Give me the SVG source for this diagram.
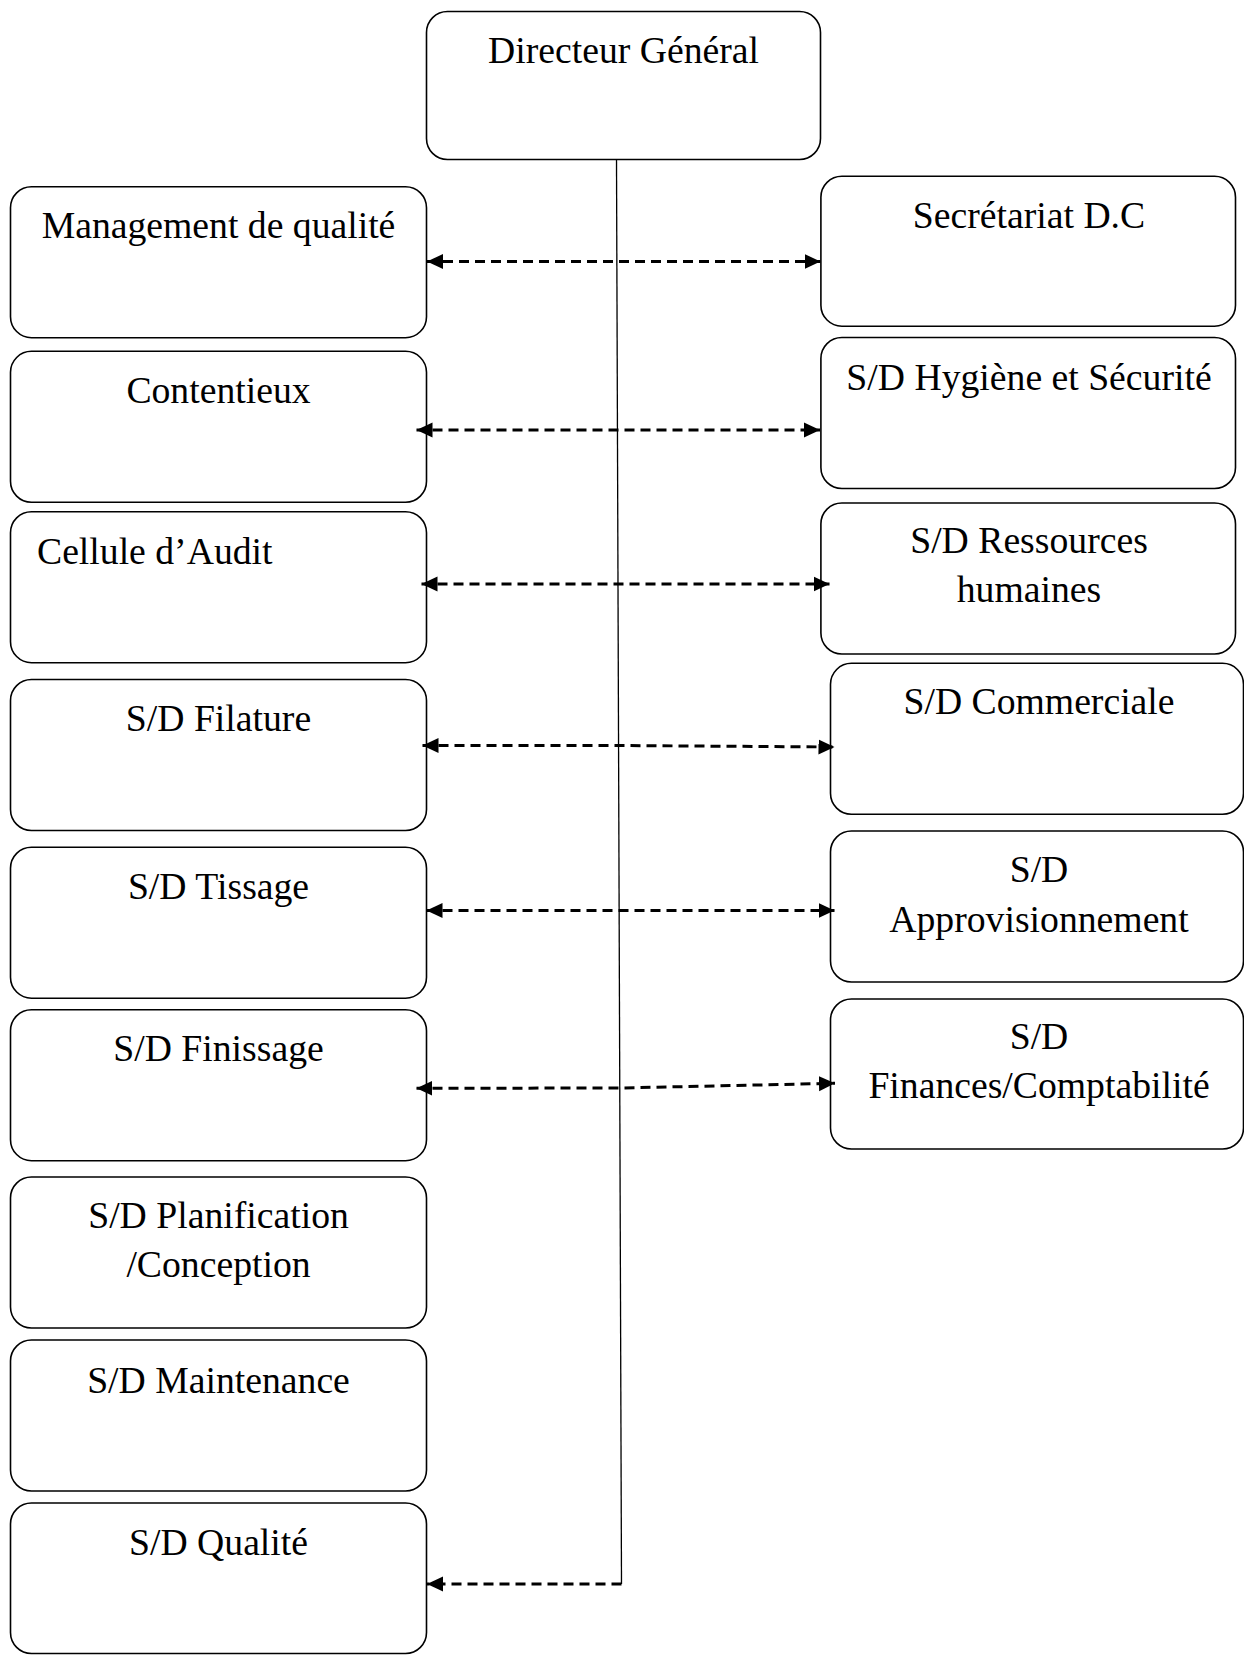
<svg xmlns="http://www.w3.org/2000/svg" width="1244" height="1655" viewBox="0 0 1244 1655">
  <style>
    .box { fill: #ffffff; stroke: #000000; stroke-width: 1.6; }
    .lbl { font-family: "Liberation Serif", "Times New Roman", serif; font-size: 37.7px; fill: #000000; text-anchor: middle; }
    .lbl.start { text-anchor: start; }
    .trunk { fill: none; stroke: #000000; stroke-width: 1.3; }
    .dash { fill: none; stroke: #000000; stroke-width: 3; stroke-dasharray: 10 6; }
    .both { marker-start: url(#head); marker-end: url(#head); }
    .one { marker-end: url(#head); }
  </style>
  <defs>
    <marker id="head" markerUnits="userSpaceOnUse" markerWidth="18" markerHeight="18" refX="16" refY="8" orient="auto-start-reverse">
      <path d="M0,0.5 L16,8 L0,15.5 Z" fill="#000000"/>
    </marker>
  </defs>

  <rect width="1244" height="1655" fill="#ffffff"/>

  <!-- head -->
  <g id="directeur-general">
    <rect class="box" x="426.5" y="11.5" width="394" height="148" rx="21" ry="21"/>
    <text class="lbl" x="623.5" y="63">Directeur Général</text>
  </g>

  <!-- left column -->
  <g id="management-qualite">
    <rect class="box" x="10.5" y="186.7" width="416" height="151" rx="21" ry="21"/>
    <text class="lbl" x="218.5" y="237.5">Management de qualité</text>
  </g>
  <g id="contentieux">
    <rect class="box" x="10.5" y="351.3" width="416" height="151" rx="21" ry="21"/>
    <text class="lbl" x="218.5" y="403">Contentieux</text>
  </g>
  <g id="cellule-audit">
    <rect class="box" x="10.5" y="511.7" width="416" height="151" rx="21" ry="21"/>
    <text class="lbl start" x="37" y="563.5">Cellule d’Audit</text>
  </g>
  <g id="sd-filature">
    <rect class="box" x="10.5" y="679.5" width="416" height="151" rx="21" ry="21"/>
    <text class="lbl" x="218.5" y="731">S/D Filature</text>
  </g>
  <g id="sd-tissage">
    <rect class="box" x="10.5" y="847.2" width="416" height="151" rx="21" ry="21"/>
    <text class="lbl" x="218.5" y="899">S/D Tissage</text>
  </g>
  <g id="sd-finissage">
    <rect class="box" x="10.5" y="1009.7" width="416" height="151" rx="21" ry="21"/>
    <text class="lbl" x="218.5" y="1061.4">S/D Finissage</text>
  </g>
  <g id="sd-planification">
    <rect class="box" x="10.5" y="1177" width="416" height="151" rx="21" ry="21"/>
    <text class="lbl" x="218.5" y="1228.3">S/D Planification</text>
    <text class="lbl" x="218.5" y="1277">/Conception</text>
  </g>
  <g id="sd-maintenance">
    <rect class="box" x="10.5" y="1340" width="416" height="151" rx="21" ry="21"/>
    <text class="lbl" x="218.5" y="1392.5">S/D Maintenance</text>
  </g>
  <g id="sd-qualite">
    <rect class="box" x="10.5" y="1503" width="416" height="150.5" rx="21" ry="21"/>
    <text class="lbl" x="218.5" y="1555">S/D Qualité</text>
  </g>

  <!-- right column -->
  <g id="secretariat-dc">
    <rect class="box" x="820.9" y="176.2" width="414.6" height="150" rx="21" ry="21"/>
    <text class="lbl" x="1029" y="227.5">Secrétariat D.C</text>
  </g>
  <g id="sd-hygiene-securite">
    <rect class="box" x="820.9" y="337.5" width="414.6" height="151" rx="21" ry="21"/>
    <text class="lbl" x="1029" y="390">S/D Hygiène et Sécurité</text>
  </g>
  <g id="sd-ressources-humaines">
    <rect class="box" x="820.9" y="503" width="414.6" height="151" rx="21" ry="21"/>
    <text class="lbl" x="1029" y="552.7">S/D Ressources</text>
    <text class="lbl" x="1029" y="601.7">humaines</text>
  </g>
  <g id="sd-commerciale">
    <rect class="box" x="830.5" y="663.3" width="413" height="151" rx="21" ry="21"/>
    <text class="lbl" x="1039" y="714.3">S/D Commerciale</text>
  </g>
  <g id="sd-approvisionnement">
    <rect class="box" x="830.5" y="831" width="413" height="151" rx="21" ry="21"/>
    <text class="lbl" x="1039" y="881.7">S/D</text>
    <text class="lbl" x="1039" y="931.7">Approvisionnement</text>
  </g>
  <g id="sd-finances-comptabilite">
    <rect class="box" x="830.5" y="999" width="413" height="150" rx="21" ry="21"/>
    <text class="lbl" x="1039" y="1049">S/D</text>
    <text class="lbl" x="1039" y="1098.3">Finances/Comptabilité</text>
  </g>

  <!-- connectors, drawn above the boxes so the arrowheads stay visible -->
  <g id="connectors">
    <path class="trunk" d="M616.5,159.3 L621.5,1584"/>
    <path class="dash both" d="M427,261.5 L820.5,261.5"/>
    <path class="dash both" d="M416.5,430 L820,430"/>
    <path class="dash both" d="M421.5,584 L829.5,584"/>
    <path class="dash both" d="M422.5,745.5 L618.5,745.5 L834.5,747"/>
    <path class="dash both" d="M426.5,910.5 L834.5,910.5"/>
    <path class="dash both" d="M416.5,1088.3 L619.5,1088 L835,1083.3"/>
    <path class="dash one" d="M621.5,1584 L427,1584"/>
  </g>
</svg>
